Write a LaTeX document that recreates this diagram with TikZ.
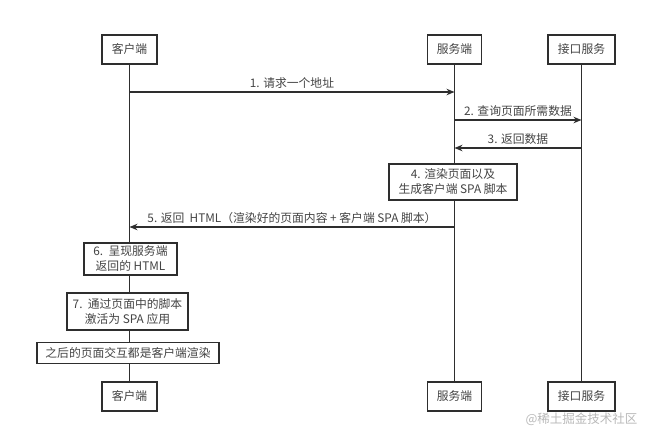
\documentclass[tikz,border=0pt]{standalone}
\usepackage{fontspec}
\setmainfont{Noto Sans CJK SC}
\usetikzlibrary{arrows.meta}
\definecolor{linec}{HTML}{2E2E2E}
\definecolor{textc}{HTML}{444444}
\definecolor{markc}{HTML}{B8B8B8}
\begin{document}
\begin{tikzpicture}[x=1pt,y=-1pt,
  every node/.style={font=\fontsize{11.8}{15}\selectfont, text=textc},
  actor/.style={draw=linec, line width=1.5pt, fill=white, minimum height=29pt, inner sep=0pt},
  stepbox/.style={draw=linec, line width=1.5pt, fill=white, align=center, inner sep=0pt},
  life/.style={draw=linec, line width=1.3pt},
  msg/.style={draw=linec, line width=1.3pt, -{Stealth[length=8pt,width=6.5pt]}},
  lbl/.style={above, inner sep=2pt, yshift=1pt}]
\useasboundingbox (0,0) rectangle (657,443);

% actors top
\node[actor, minimum width=55pt] (ct) at (129.5,49.5) {客户端};
\node[actor, minimum width=54pt] (st) at (454.5,49.5) {服务端};
\node[actor, minimum width=67pt] (at) at (581.5,49.5) {接口服务};
% actors bottom
\node[actor, minimum width=55pt] (cb) at (129.5,396.5) {客户端};
\node[actor, minimum width=54pt] (sb) at (454.5,396.5) {服务端};
\node[actor, minimum width=67pt] (ab) at (581.5,396.5) {接口服务};

% lifelines
\draw[life] (ct.south) -- (cb.north);
\draw[life] (st.south) -- (sb.north);
\draw[life] (at.south) -- (ab.north);

% message anchor points
\coordinate (c1) at (129.5,92);  \coordinate (s1) at (454.5,92);
\coordinate (s2) at (454.5,120);   \coordinate (a2) at (581.5,120);
\coordinate (a3) at (581.5,148); \coordinate (s3) at (454.5,148);
\coordinate (s5) at (454.5,227);   \coordinate (c5) at (129.5,227);

\draw[msg] (c1) -- node[lbl] {1. 请求一个地址} (s1);
\draw[msg] (s2) -- node[lbl] {2. 查询页面所需数据} (a2);
\draw[msg] (a3) -- node[lbl] {3. 返回数据} (s3);
\draw[msg] (s5) -- node[lbl] {5. 返回\ \ HTML（渲染好的页面内容\ +\ 客户端\ SPA\ 脚本）} (c5);

% activity boxes
\node[stepbox, minimum width=128pt, minimum height=36pt] (b4) at (453,182) {4. 渲染页面以及\\生成客户端 SPA 脚本};
\node[stepbox, minimum width=93pt, minimum height=32pt] (b6) at (130.5,259) {6.\ \ 呈现服务端\\返回的 HTML};
\node[stepbox, minimum width=121pt, minimum height=37pt] (b7) at (127.5,311.5) {7.\ \ 通过页面中的脚本\\激活为 SPA 应用};
\node[stepbox, minimum width=182pt, minimum height=21pt] (b8) at (128,353) {之后的页面交互都是客户端渲染};

% watermark
\node[anchor=east, text=markc, font=\fontsize{12.5}{14}\selectfont] (wm) at (641,419) {@稀土掘金技术社区};
\end{tikzpicture}
\end{document}
